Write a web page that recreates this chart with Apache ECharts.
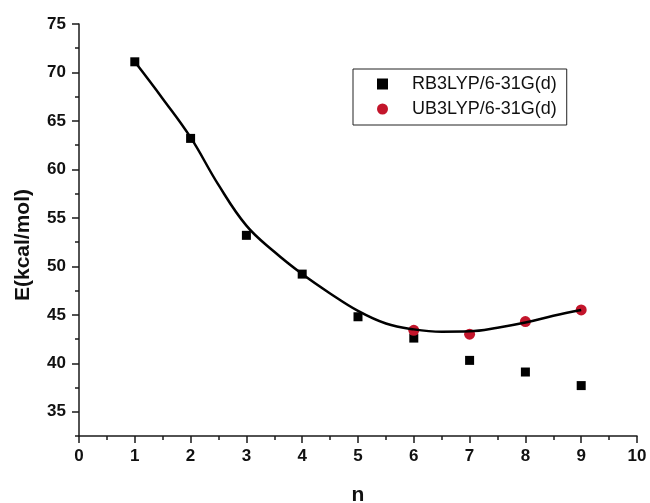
<!DOCTYPE html>
<html>
<head>
<meta charset="utf-8">
<script src="https://cdn.jsdelivr.net/npm/echarts@6/dist/echarts.min.js"></script>
<style>
  html, body { margin: 0; padding: 0; background: #fff; }
  #main { width: 650px; height: 503px; }
</style>
</head>
<body>
<div id="main"></div>
<script>
// data
var nRB = [1, 2, 3, 4, 5, 6, 7, 8, 9]
var eRB = [71.1, 63.2, 53.2, 49.2, 44.8, 42.6, 40.3, 39.1, 37.7]
var nUB = [6, 7, 8, 9]
var eUB = [43.4, 43.0, 44.3, 45.5]
// fitted curve, every half step
var nFit = [1, 1.5, 2, 2.5, 3, 3.5, 4, 4.5, 5, 5.5, 6, 6.5, 7, 7.5, 8, 8.5, 9]
var eFit = [71.1, 67.3, 63.3, 58.4, 54.2, 51.5, 49.2, 47.2, 45.4, 44.1, 43.5, 43.26, 43.3, 43.67, 44.2, 44.9, 45.5]
var yMajor = [35, 40, 45, 50, 55, 60, 65, 70, 75]
var yMinor = [32.5, 37.5, 42.5, 47.5, 52.5, 57.5, 62.5, 67.5, 72.5]

function pairs(xs, ys) {
  return xs.map(function (x, i) { return [x, ys[i]] })
}

var myChart = echarts.init(document.getElementById('main'))
var font = 'Liberation Sans, Arial, sans-serif'
var axisCol = '#1a1a1a'

var option = {
  animation: false,
  textStyle: { fontFamily: font },
  grid: { left: 79, right: 13, top: 24, bottom: 67, outerBoundsMode: 'none' },
  legend: {
    // 图例
    orient: 'vertical',
    left: 353,
    top: 69,
    padding: [6, 10, 7, 24],
    itemGap: 7,
    itemWidth: 11,
    itemHeight: 11,
    borderColor: '#222',
    borderWidth: 1,
    textStyle: { fontSize: 18, color: '#111', fontFamily: font, padding: [0, 0, 0, 19] },
    data: [
      { name: 'RB3LYP/6-31G(d)', icon: 'rect' },
      { name: 'UB3LYP/6-31G(d)', icon: 'circle' }
    ]
  },
  xAxis: {
    type: 'value',
    min: 0,
    max: 10,
    interval: 1,
    name: 'n',
    nameLocation: 'middle',
    nameGap: 49,
    nameTextStyle: { fontSize: 21, fontWeight: 'bold', color: '#111', fontFamily: font },
    axisLine: { lineStyle: { color: axisCol, width: 1.5 } },
    axisTick: { length: 7, lineStyle: { color: axisCol, width: 1.5 } },
    minorTick: { show: true, splitNumber: 2, length: 4, lineStyle: { color: axisCol, width: 1.5 } },
    axisLabel: { margin: 12, fontSize: 17, fontWeight: 'bold', color: '#111', fontFamily: font },
    splitLine: { show: false }
  },
  yAxis: [
    {
      type: 'value',
      min: 32.5,
      max: 75,
      name: 'E(kcal/mol)',
      nameLocation: 'middle',
      nameGap: 45,
      nameTextStyle: { fontSize: 21, fontWeight: 'bold', color: '#111', fontFamily: font, padding: [0, 30, 0, 0] },
      axisLine: { show: true, lineStyle: { color: axisCol, width: 1.5 } },
      axisTick: { customValues: yMajor, length: 7, lineStyle: { color: axisCol, width: 1.5 } },
      axisLabel: { customValues: yMajor, margin: 13, fontSize: 17, fontWeight: 'bold', color: '#111', fontFamily: font },
      splitLine: { show: false }
    },
    {
      // minor ticks only
      type: 'value',
      position: 'left',
      min: 32.5,
      max: 75,
      axisLine: { show: false },
      axisTick: { customValues: yMinor, length: 4, lineStyle: { color: axisCol, width: 1.5 } },
      axisLabel: { show: false },
      splitLine: { show: false }
    }
  ],
  series: [
    {
      name: 'fit',
      type: 'line',
      smooth: 0.4,
      showSymbol: false,
      lineStyle: { color: '#000', width: 2.5 },
      data: pairs(nFit, eFit),
      z: 3
    },
    {
      name: 'RB3LYP/6-31G(d)',
      type: 'scatter',
      symbol: 'rect',
      symbolSize: 9,
      itemStyle: { color: '#000', opacity: 1 },
      data: pairs(nRB, eRB),
      z: 2
    },
    {
      name: 'UB3LYP/6-31G(d)',
      type: 'scatter',
      symbol: 'circle',
      symbolSize: 11,
      itemStyle: { color: '#c3152b', opacity: 1 },
      data: pairs(nUB, eUB),
      z: 2
    }
  ]
}
option && myChart.setOption(option)
</script>
</body>
</html>
